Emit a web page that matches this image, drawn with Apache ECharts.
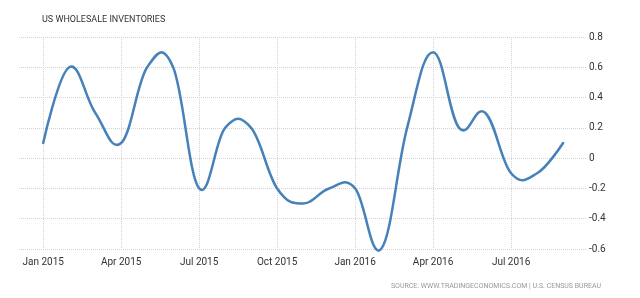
<!DOCTYPE html>
<html>
<head>
<meta charset="utf-8">
<script src="https://cdn.jsdelivr.net/npm/echarts@6/dist/echarts.min.js"></script>
<style>
html,body{margin:0;padding:0;background:#fff;}
#chart{width:640px;height:298px;}
</style>
</head>
<body>
<div id="chart"></div>
<script>
var months = ['Jan 2015','Feb 2015','Mar 2015','Apr 2015','May 2015','Jun 2015','Jul 2015','Aug 2015','Sep 2015','Oct 2015','Nov 2015','Dec 2015',
              'Jan 2016','Feb 2016','Mar 2016','Apr 2016','May 2016','Jun 2016','Jul 2016','Aug 2016','Sep 2016'];
var inventories = [0.1, 0.6, 0.3, 0.1, 0.6, 0.6, -0.2, 0.2, 0.2, -0.2, -0.3, -0.2,
                   -0.2, -0.6, 0.2, 0.7, 0.2, 0.3, -0.1, -0.1, 0.1];
var xTickLabels = ['Jan 2015','Apr 2015','Jul 2015','Oct 2015','Jan 2016','Apr 2016','Jul 2016'];
var yTicks = [-0.6, -0.4, -0.2, 0, 0.2, 0.4, 0.6, 0.8];
var titleText = 'US WHOLESALE INVENTORIES';
var sourceText = 'SOURCE: WWW.TRADINGECONOMICS.COM | U.S. CENSUS BUREAU';

var xTickIdx = xTickLabels.map(function (l) { return months.indexOf(l); });
var seriesData = months.map(function (m, i) { return [i, inventories[i]]; });

var FONT = 'Roboto, "Liberation Sans", sans-serif';
var LINE_COLOR = '#4682b9';

// Spline path (cardinal-style, like the original chart library) through points given in pixels
function splinePath(pts) {
  var smoothing = 1.5, denom = smoothing + 1;
  var cps = pts.map(function (p, i) {
    var last = pts[i - 1], next = pts[i + 1];
    if (!last || !next) return {lx: p[0], ly: p[1], rx: p[0], ry: p[1]};
    var lx = (smoothing * p[0] + last[0]) / denom;
    var ly = (smoothing * p[1] + last[1]) / denom;
    var rx = (smoothing * p[0] + next[0]) / denom;
    var ry = (smoothing * p[1] + next[1]) / denom;
    var corr = 0;
    if (rx !== lx) corr = ((ry - ly) * (rx - p[0])) / (rx - lx) + p[1] - ry;
    return {lx: lx, ly: ly + corr, rx: rx, ry: ry + corr};
  });
  var d = 'M' + pts[0][0] + ' ' + pts[0][1];
  for (var i = 1; i < pts.length; i++) {
    d += ' C' + cps[i - 1].rx + ' ' + cps[i - 1].ry + ' ' + cps[i].lx + ' ' + cps[i].ly + ' ' + pts[i][0] + ' ' + pts[i][1];
  }
  return d;
}

var chart = echarts.init(document.getElementById('chart'), null, {renderer: 'canvas'});
chart.setOption({
  animation: false,
  backgroundColor: '#ffffff',
  title: {
    text: titleText,
    left: 37, top: 10,
    textStyle: {fontSize: 9, fontWeight: 'normal', color: '#333', fontFamily: FONT}
  },
  graphic: [{
    type: 'text',
    x: 601, y: 286,
    style: {text: sourceText, fill: '#999', font: '7px ' + FONT, align: 'right', verticalAlign: 'middle'}
  }],
  grid: {left: 19, right: 53, top: 37, bottom: 49},
  xAxis: {
    type: 'value',
    min: -0.93, max: 20.92,
    axisLine: {show: false},
    axisTick: {show: false, customValues: xTickIdx},
    axisLabel: {
      customValues: xTickIdx,
      margin: 8,
      color: '#333', fontSize: 10, fontFamily: FONT,
      formatter: function (v) { return months[Math.round(v)]; }
    },
    splitLine: {show: true, lineStyle: {color: '#d4d4d4', type: [1, 1], width: 1}}
  },
  yAxis: {
    type: 'value',
    position: 'right',
    min: yTicks[0], max: yTicks[yTicks.length - 1], interval: 0.2,
    axisLine: {show: false},
    axisTick: {show: false},
    axisLabel: {
      margin: 2, align: 'left',
      color: '#333', fontSize: 10, fontFamily: FONT,
      formatter: function (v) { return Math.abs(v) < 1e-9 ? '0' : v.toFixed(1); }
    },
    splitLine: {show: true, lineStyle: {color: '#d4d4d4', type: [1, 1], width: 1}}
  },
  series: [{
    type: 'custom',
    data: seriesData,
    encode: {x: 0, y: 1},
    renderItem: function (params, api) {
      if (params.dataIndex !== 0) return;
      var pts = seriesData.map(function (d) { return api.coord(d); });
      return {
        type: 'path',
        shape: {pathData: splinePath(pts)},
        style: {fill: 'none', stroke: LINE_COLOR, lineWidth: 2.5, lineJoin: 'round', lineCap: 'round'}
      };
    }
  }]
});
</script>
</body>
</html>
